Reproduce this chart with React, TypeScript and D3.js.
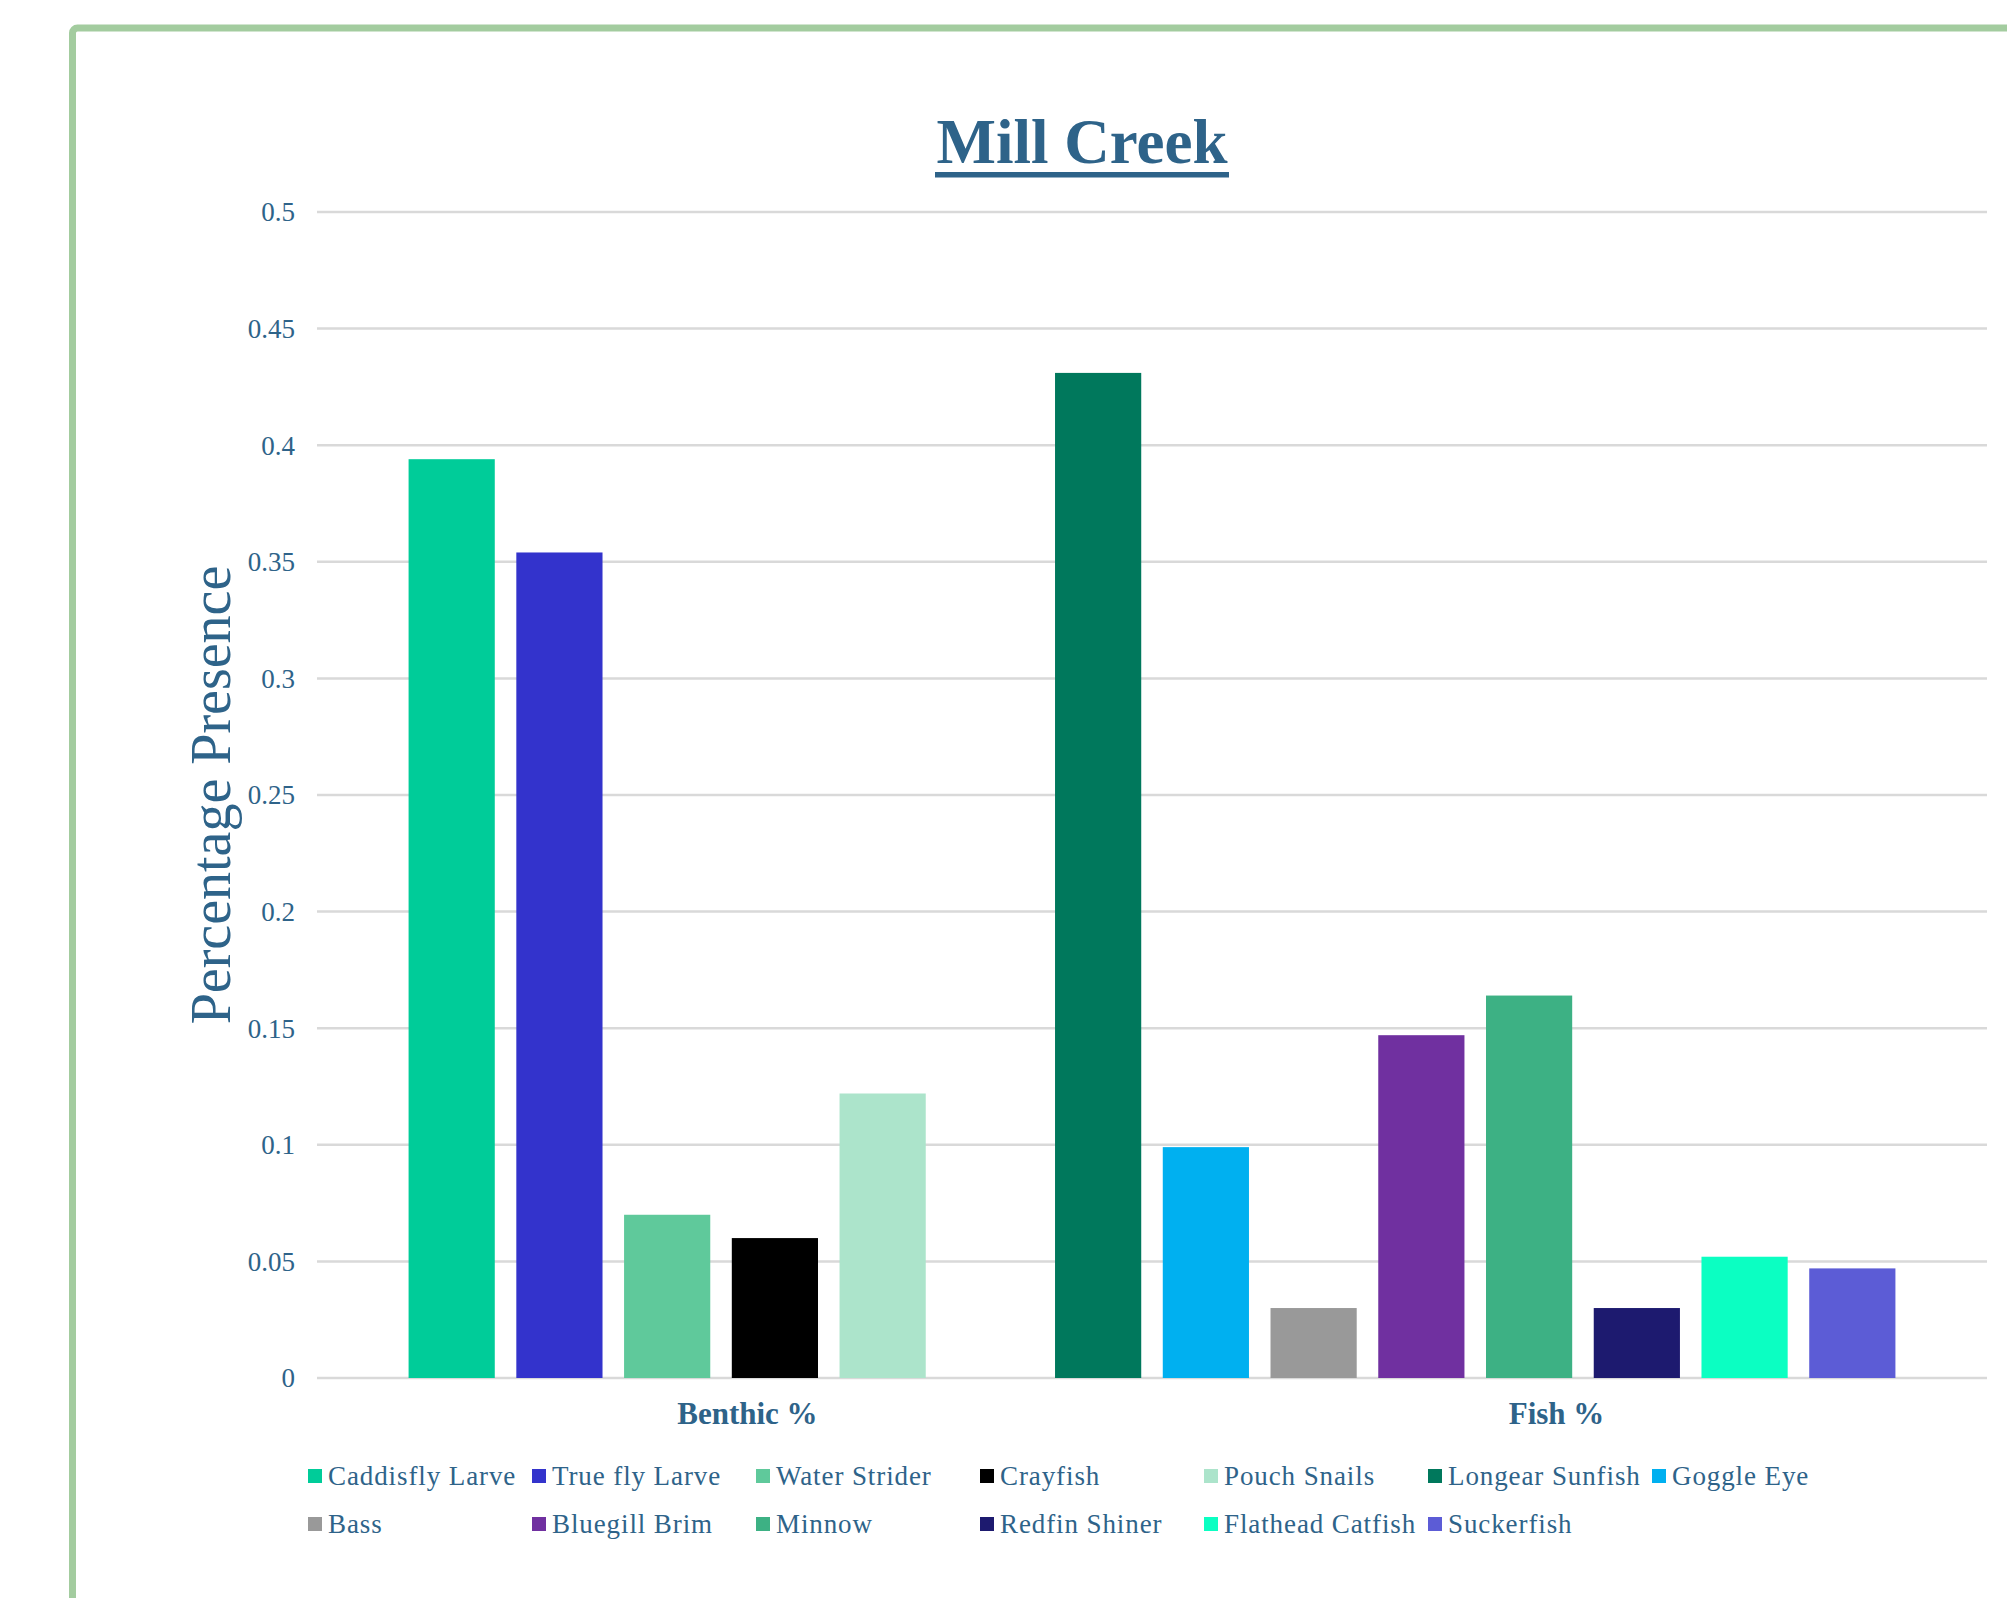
import { useEffect, useRef } from "react";
import * as d3 from "d3";

const W = 2007;
const H = 1598;

const title = "Mill Creek";
const yTitle = "Percentage Presence";
const categories = ["Benthic %", "Fish %"];

const benthicSpecies = ["Caddisfly Larve", "True fly Larve", "Water Strider", "Crayfish", "Pouch Snails"];
const benthicValues = [0.394, 0.354, 0.070, 0.060, 0.122];

const fishSpecies = ["Longear Sunfish", "Goggle Eye", "Bass", "Bluegill Brim", "Minnow", "Redfin Shiner", "Flathead Catfish", "Suckerfish"];
const fishValues = [0.431, 0.099, 0.030, 0.147, 0.164, 0.030, 0.052, 0.047];

const speciesColors = [
  "#00CC99", "#3333CC", "#5FC99B", "#000000", "#ACE4CB",
  "#00785C", "#00B0F0", "#999999", "#7030A0", "#3DB184", "#1D1A6F", "#0BFFC2", "#5C5CD6",
];

const TEXT = "#2E6389";
const FONT = "'Liberation Serif', 'Times New Roman', serif";

export default function App() {
  const svgRef = useRef(null);

  useEffect(() => {
    const svg = d3.select(svgRef.current);
    svg.selectAll("*").remove();

    const plot = { left: 317, right: 1987, top: 212, bottom: 1378 };

    const allSpecies = [...benthicSpecies, ...fishSpecies];
    const bars = [
      ...benthicSpecies.map((s, i) => ({ name: s, value: benthicValues[i] })),
      ...fishSpecies.map((s, i) => ({ name: s, value: fishValues[i] })),
    ];
    const color = d3.scaleOrdinal().domain(allSpecies).range(speciesColors);

    // one empty slot between the two groups
    const slots = [...benthicSpecies, "__gap", ...fishSpecies];
    const x = d3.scaleBand()
      .domain(slots)
      .range([plot.left, plot.right])
      .paddingInner(0.2)
      .paddingOuter(0.85);

    const xCat = d3.scaleBand()
      .domain(categories)
      .range([plot.left, plot.right])
      .paddingOuter(0.032);

    const y = d3.scaleLinear().domain([0, 0.5]).range([plot.bottom, plot.top]);

    // green frame
    svg.append("rect")
      .attr("x", 72.5)
      .attr("y", 28)
      .attr("width", W + 50)
      .attr("height", H + 50)
      .attr("rx", 5)
      .attr("fill", "none")
      .attr("stroke", "#A3CC9F")
      .attr("stroke-width", 7);

    // title
    svg.append("text")
      .attr("x", 1082)
      .attr("y", 163)
      .attr("text-anchor", "middle")
      .attr("font-family", FONT)
      .attr("font-weight", "bold")
      .attr("font-size", 63)
      .attr("fill", TEXT)
      .text(title);
    svg.append("rect")
      .attr("x", 935)
      .attr("y", 172)
      .attr("width", 294)
      .attr("height", 5.5)
      .attr("fill", TEXT);

    // gridlines + tick labels
    const ticks = y.ticks(10);
    svg.append("g")
      .selectAll("line")
      .data(ticks)
      .join("line")
      .attr("x1", plot.left)
      .attr("x2", plot.right)
      .attr("y1", d => y(d))
      .attr("y2", d => y(d))
      .attr("stroke", "#D9D9D9")
      .attr("stroke-width", 2.5);

    svg.append("g")
      .selectAll("text")
      .data(ticks)
      .join("text")
      .attr("x", 295)
      .attr("y", d => y(d))
      .attr("dy", "0.35em")
      .attr("text-anchor", "end")
      .attr("font-family", FONT)
      .attr("font-size", 27)
      .attr("fill", TEXT)
      .text(d => String(+d.toFixed(2)));

    // y title
    svg.append("text")
      .attr("transform", "translate(230,795) rotate(-90)")
      .attr("text-anchor", "middle")
      .attr("font-family", FONT)
      .attr("font-size", 56)
      .attr("fill", TEXT)
      .text(yTitle);

    // bars
    svg.append("g")
      .selectAll("rect")
      .data(bars)
      .join("rect")
      .attr("x", d => x(d.name))
      .attr("y", d => y(d.value))
      .attr("width", x.bandwidth())
      .attr("height", d => y(0) - y(d.value))
      .attr("fill", d => color(d.name));

    // category labels
    svg.append("g")
      .selectAll("text")
      .data(categories)
      .join("text")
      .attr("x", d => xCat(d) + xCat.bandwidth() / 2)
      .attr("y", 1424)
      .attr("text-anchor", "middle")
      .attr("font-family", FONT)
      .attr("font-weight", "bold")
      .attr("font-size", 31)
      .attr("fill", TEXT)
      .text(d => d);

    // legend: 7 columns, 2 rows
    const cols = 7;
    const colW = 224;
    const legend = svg.append("g")
      .selectAll("g")
      .data(allSpecies)
      .join("g")
      .attr("transform", (d, i) => `translate(${308 + (i % cols) * colW},${1476 + Math.floor(i / cols) * 48})`);
    legend.append("rect")
      .attr("x", 0)
      .attr("y", -7)
      .attr("width", 14)
      .attr("height", 14)
      .attr("fill", d => color(d));
    legend.append("text")
      .attr("x", 20)
      .attr("y", 0)
      .attr("dy", "0.35em")
      .attr("font-family", FONT)
      .attr("font-size", 27)
      .attr("letter-spacing", 0.9)
      .attr("fill", TEXT)
      .text(d => d);
  }, []);

  return (
    <svg
      ref={svgRef}
      width={W}
      height={H}
      style={{ position: "absolute", left: 0, top: 0, background: "#fff", display: "block" }}
    />
  );
}
